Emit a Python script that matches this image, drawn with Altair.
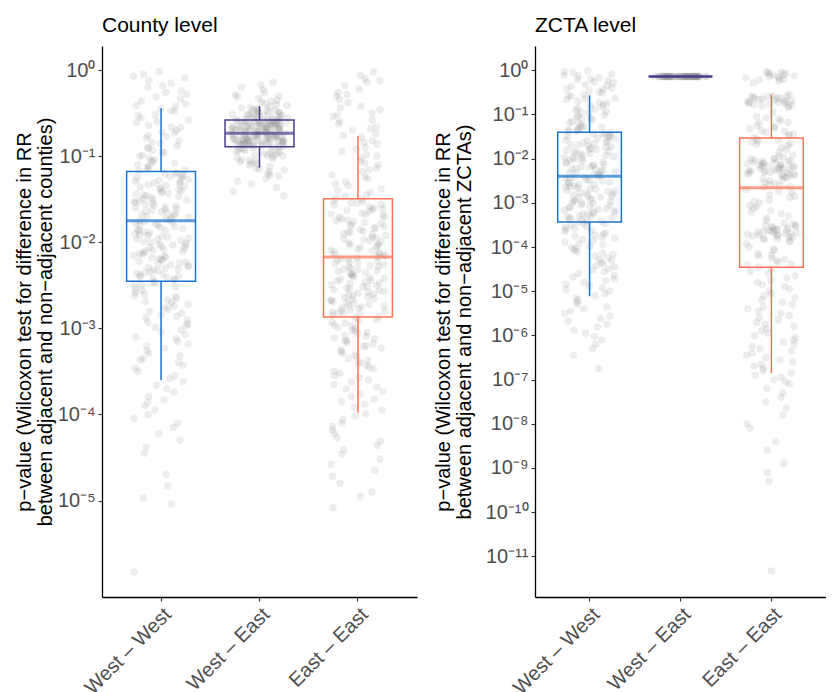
import json
import altair as alt
import pandas as pd

categories = ["West – West", "West – East", "East – East"]
box_colors = ["#1874CD", "#483D8B", "#FF7256"]

# ---- jittered points: log10(p-value) ----
county_west_west = [
    -0.02, -0.05, -0.09, -0.12, -0.15, -0.2, -0.24, -0.28, -0.31, -0.36, -0.39, -0.42, -0.45,
    -0.48, -0.52, -0.55, -0.58, -0.61, -0.64, -0.67, -0.7, -0.73, -0.76, -0.79, -0.82, -0.85,
    -0.88, -0.9, -0.93, -0.96, -0.99, -1.02, -1.05, -1.08, -1.11, -1.14, -1.17,
    -1.19, -1.21, -1.23, -1.25, -1.26, -1.27, -1.29, -1.3, -1.32, -1.34, -1.36, -1.38, -1.39,
    -1.41, -1.43, -1.44, -1.45, -1.46, -1.48, -1.5, -1.51, -1.53, -1.55, -1.56, -1.57, -1.58,
    -1.6, -1.61, -1.62, -1.63, -1.64, -1.66, -1.67, -1.69, -1.7, -1.72, -1.73, -1.74,
    -1.76, -1.78, -1.8, -1.82, -1.84, -1.85, -1.86, -1.88, -1.9, -1.92, -1.94, -1.96, -1.98,
    -2.0, -2.01, -2.02, -2.04, -2.06, -2.08, -2.1, -2.12, -2.14, -2.16, -2.18, -2.2, -2.22,
    -2.24, -2.26, -2.27, -2.28, -2.3, -2.32, -2.34, -2.36, -2.38, -2.4, -2.42, -2.44,
    -2.47, -2.5, -2.54, -2.58, -2.62, -2.65, -2.69, -2.72, -2.76, -2.8, -2.84, -2.88, -2.93,
    -2.97, -3.02, -3.07, -3.12, -3.18, -3.23, -3.29, -3.35, -3.4, -3.46, -3.55, -3.62, -3.7,
    -3.79, -3.86, -3.95, -4.05, -4.15, -4.3, -4.45, -4.7, -4.83, -4.97, -5.04, -5.83,
]
county_west_west_more = [
    -0.07, -0.18, -0.26, -0.33, -0.41, -0.47, -0.53, -0.6, -0.66, -0.72, -0.77, -0.84, -0.91,
    -0.95, -1.0, -1.04, -1.07, -1.1, -1.13, -1.16, -1.2, -1.22, -1.24, -1.28, -1.31, -1.33,
    -1.35, -1.37, -1.4, -1.42, -1.47, -1.49, -1.52, -1.54, -1.59, -1.65, -1.68, -1.71, -1.75,
    -1.77, -1.79, -1.81, -1.83, -1.87, -1.89, -1.91, -1.93, -1.95, -1.97, -1.99, -2.03, -2.05,
    -2.07, -2.09, -2.11, -2.13, -2.15, -2.17, -2.19, -2.21, -2.23, -2.25, -2.29, -2.31, -2.33,
    -2.35, -2.37, -2.39, -2.41, -2.43, -2.46, -2.49, -2.52, -2.56, -2.6, -2.63, -2.67, -2.7,
    -2.74, -2.78, -2.82, -2.86, -2.9, -2.95, -2.99, -3.04, -3.1, -3.15, -3.2, -3.26, -3.32,
    -3.37, -3.43, -3.5, -3.58, -3.66, -3.74, -3.83, -3.9, -4.0, -4.1, -4.22, -4.38,
]
county_west_east = [
    -0.14, -0.17, -0.2, -0.23, -0.26, -0.29, -0.31, -0.33, -0.35, -0.37, -0.39, -0.41, -0.42,
    -0.44, -0.45, -0.46, -0.47, -0.48, -0.49, -0.5, -0.51, -0.52, -0.53, -0.54, -0.55, -0.555,
    -0.56, -0.565, -0.57, -0.575,
    -0.58, -0.585, -0.59, -0.595, -0.6, -0.605, -0.61, -0.615, -0.62, -0.625, -0.63, -0.635,
    -0.64, -0.645, -0.65, -0.655, -0.66, -0.665, -0.67, -0.675, -0.68, -0.685, -0.69, -0.695,
    -0.7, -0.705, -0.71, -0.715, -0.72, -0.73,
    -0.74, -0.745, -0.75, -0.755, -0.76, -0.765, -0.77, -0.775, -0.78, -0.785, -0.79, -0.795,
    -0.8, -0.805, -0.81, -0.815, -0.82, -0.825, -0.83, -0.835, -0.84, -0.845, -0.85, -0.855,
    -0.86, -0.865, -0.87, -0.875, -0.88, -0.885,
    -0.9, -0.91, -0.92, -0.93, -0.94, -0.95, -0.96, -0.97, -0.98, -0.99, -1.0, -1.01, -1.02,
    -1.04, -1.05, -1.07, -1.08, -1.1, -1.12, -1.14, -1.16, -1.18, -1.2, -1.23, -1.26, -1.29,
    -1.32, -1.36, -1.41, -1.46,
]
county_west_east_more = [
    -0.3, -0.36, -0.4, -0.43, -0.455, -0.465, -0.475, -0.485, -0.495, -0.505, -0.515, -0.525,
    -0.535, -0.545, -0.558, -0.568, -0.578, -0.583, -0.588, -0.593, -0.598, -0.603, -0.608,
    -0.613, -0.618, -0.623, -0.628, -0.633, -0.638, -0.643, -0.648, -0.653, -0.658, -0.663,
    -0.668, -0.673, -0.678, -0.683, -0.688, -0.693, -0.698, -0.703, -0.708, -0.713, -0.718,
    -0.725, -0.735, -0.742, -0.748, -0.753, -0.758, -0.763, -0.768, -0.773, -0.778, -0.783,
    -0.788, -0.793, -0.798, -0.803, -0.808, -0.813, -0.818, -0.823, -0.828, -0.833, -0.838,
    -0.843, -0.848, -0.853, -0.858, -0.863, -0.868, -0.873, -0.878, -0.89, -0.905, -0.925,
    -0.945, -0.965, -0.985, -1.03, -1.06, -1.09, -1.15, -1.22,
]
county_east_east = [
    -0.02, -0.06, -0.1, -0.14, -0.18, -0.22, -0.26, -0.3, -0.34, -0.38, -0.42, -0.46, -0.5,
    -0.54, -0.58, -0.62, -0.66, -0.7, -0.74, -0.78, -0.82, -0.86, -0.9, -0.94, -0.98, -1.02,
    -1.06, -1.1, -1.14, -1.18, -1.22, -1.26, -1.3, -1.34, -1.38, -1.42, -1.47,
    -1.5, -1.52, -1.54, -1.55, -1.57, -1.59, -1.61, -1.62, -1.64, -1.66, -1.68, -1.69, -1.71,
    -1.73, -1.75, -1.76, -1.78, -1.8, -1.82, -1.83, -1.85, -1.87, -1.89, -1.9, -1.92, -1.94,
    -1.96, -1.97, -1.99, -2.01, -2.03, -2.04, -2.06, -2.08, -2.1, -2.12, -2.14, -2.16,
    -2.18, -2.2, -2.22, -2.24, -2.26, -2.27, -2.29, -2.31, -2.33, -2.35, -2.36, -2.38, -2.4,
    -2.42, -2.44, -2.45, -2.47, -2.49, -2.51, -2.53, -2.54, -2.56, -2.58, -2.6, -2.62, -2.63,
    -2.65, -2.67, -2.69, -2.71, -2.72, -2.74, -2.76, -2.78, -2.8, -2.81, -2.83, -2.85,
    -2.88, -2.91, -2.94, -2.97, -3.0, -3.03, -3.06, -3.09, -3.12, -3.15, -3.18, -3.21, -3.25,
    -3.29, -3.33, -3.37, -3.41, -3.45, -3.5, -3.55, -3.6, -3.65, -3.7, -3.76, -3.82, -3.88,
    -3.95, -4.02, -4.1, -4.18, -4.27, -4.36, -4.46, -4.58, -4.72, -4.9, -5.08,
]
county_east_east_more = [
    -0.12, -0.28, -0.44, -0.52, -0.6, -0.68, -0.76, -0.84, -0.92, -1.0, -1.08, -1.16, -1.24,
    -1.32, -1.4, -1.45, -1.49, -1.53, -1.56, -1.6, -1.63, -1.67, -1.7, -1.74, -1.77, -1.81,
    -1.84, -1.88, -1.91, -1.95, -1.98, -2.02, -2.05, -2.09, -2.11, -2.13, -2.15, -2.17, -2.19,
    -2.21, -2.23, -2.25, -2.28, -2.3, -2.32, -2.34, -2.37, -2.39, -2.41, -2.43, -2.46, -2.48,
    -2.5, -2.52, -2.55, -2.57, -2.59, -2.61, -2.64, -2.66, -2.68, -2.7, -2.73, -2.75, -2.77,
    -2.79, -2.82, -2.84, -2.86, -2.9, -2.93, -2.96, -2.99, -3.02, -3.05, -3.08, -3.11, -3.14,
    -3.17, -3.2, -3.23, -3.27, -3.31, -3.35, -3.39, -3.43, -3.47, -3.52, -3.57, -3.62, -3.68,
    -3.73, -3.79, -3.85, -3.92, -3.99, -4.06, -4.14, -4.22, -4.31, -4.41, -4.52, -4.65, -4.8,
    -4.95,
]
zcta_west_west = [
    -0.01, -0.05, -0.09, -0.13, -0.17, -0.2, -0.24, -0.28, -0.32, -0.36, -0.4, -0.43, -0.47,
    -0.51, -0.55, -0.59, -0.63, -0.66, -0.7, -0.74, -0.78, -0.82, -0.86, -0.89, -0.93, -0.97,
    -1.01, -1.05, -1.09, -1.12, -1.16, -1.2, -1.24, -1.28, -1.32, -1.35, -1.38,
    -1.42, -1.45, -1.47, -1.5, -1.52, -1.55, -1.58, -1.6, -1.63, -1.66, -1.68, -1.71, -1.74,
    -1.76, -1.79, -1.81, -1.84, -1.87, -1.89, -1.92, -1.95, -1.97, -2.0, -2.02, -2.05, -2.08,
    -2.1, -2.13, -2.16, -2.18, -2.21, -2.23, -2.26, -2.29, -2.31, -2.34, -2.36, -2.39,
    -2.42, -2.45, -2.47, -2.5, -2.53, -2.56, -2.58, -2.61, -2.64, -2.66, -2.69, -2.72, -2.75,
    -2.77, -2.8, -2.83, -2.85, -2.88, -2.91, -2.94, -2.96, -2.99, -3.02, -3.04, -3.07, -3.1,
    -3.13, -3.15, -3.18, -3.21, -3.23, -3.26, -3.29, -3.31, -3.34, -3.37, -3.39, -3.42,
    -3.46, -3.5, -3.55, -3.6, -3.65, -3.7, -3.75, -3.8, -3.86, -3.92, -3.98, -4.04, -4.1,
    -4.17, -4.24, -4.31, -4.38, -4.45, -4.52, -4.6, -4.68, -4.76, -4.84, -4.92, -5.0, -5.1,
    -5.2, -5.3, -5.4, -5.5, -5.62, -5.75, -5.88, -6.02, -6.2, -6.45, -6.75,
]
zcta_west_west_more = [
    -0.03, -0.11, -0.19, -0.26, -0.34, -0.42, -0.49, -0.57, -0.65, -0.72, -0.8, -0.88, -0.95,
    -1.03, -1.1, -1.18, -1.26, -1.3, -1.34, -1.37, -1.4, -1.44, -1.49, -1.54, -1.59, -1.64,
    -1.69, -1.73, -1.78, -1.83, -1.88, -1.93, -1.98, -2.04, -2.09, -2.14, -2.19, -2.24, -2.28,
    -2.33, -2.38, -2.41, -2.44, -2.49, -2.54, -2.59, -2.63, -2.68, -2.73, -2.78, -2.82, -2.87,
    -2.92, -2.97, -3.01, -3.06, -3.11, -3.16, -3.2, -3.25, -3.3, -3.35, -3.4, -3.44, -3.48,
    -3.53, -3.58, -3.63, -3.68, -3.73, -3.78, -3.83, -3.89, -3.95, -4.01, -4.07, -4.14, -4.21,
    -4.28, -4.35, -4.42, -4.49, -4.56, -4.64, -4.72, -4.8, -4.88, -4.96, -5.05, -5.15, -5.25,
    -5.35, -5.45, -5.56, -5.68, -5.81, -5.95, -6.1, -6.3,
]
zcta_west_east = [
    -0.142, -0.141, -0.143, -0.142, -0.14, -0.142, -0.144, -0.141, -0.142, -0.143,
    -0.142, -0.14, -0.141, -0.142, -0.143, -0.142, -0.144, -0.142, -0.141, -0.142,
    -0.143, -0.142, -0.141, -0.14, -0.142, -0.143, -0.142, -0.141, -0.142, -0.144,
    -0.142, -0.141, -0.143, -0.142, -0.14, -0.142, -0.143, -0.141, -0.142, -0.142,
]
zcta_west_east_more = [
    -0.141, -0.142, -0.143, -0.142, -0.141, -0.142, -0.14, -0.143, -0.142, -0.141,
    -0.142, -0.143, -0.142, -0.144, -0.142, -0.141, -0.142, -0.143, -0.142, -0.141,
]
zcta_east_east = [
    -0.03, -0.05, -0.08, -0.1, -0.12, -0.14, -0.17, -0.2, -0.24, -0.28,
    -0.55, -0.58, -0.6, -0.62, -0.64, -0.66, -0.68, -0.7, -0.72, -0.74, -0.76, -0.78, -0.8, -0.84,
    -0.95, -1.05, -1.1, -1.15, -1.2, -1.25, -1.3, -1.33, -1.36, -1.4, -1.44, -1.48, -1.52,
    -1.56, -1.6, -1.63, -1.66, -1.7, -1.75, -1.8, -1.86, -1.92, -1.97, -2.0, -2.03, -2.06,
    -2.08, -2.1, -2.12, -2.14, -2.16, -2.18, -2.2, -2.22, -2.24, -2.26, -2.28, -2.3, -2.32,
    -2.34, -2.36, -2.38, -2.4, -2.43, -2.46, -2.5, -2.54, -2.58, -2.61, -2.63, -2.65,
    -2.7, -2.76, -2.82, -2.88, -2.94, -3.0, -3.06, -3.12, -3.18, -3.24, -3.3, -3.4, -3.46,
    -3.5, -3.53, -3.56, -3.59, -3.61, -3.63, -3.65, -3.67, -3.69, -3.71, -3.73, -3.75, -3.78,
    -3.81, -3.85, -3.92, -4.0, -4.08, -4.15, -4.2, -4.25, -4.3, -4.35, -4.4, -4.45,
    -4.5, -4.6, -4.7, -4.8, -4.9, -5.0, -5.1, -5.2, -5.3, -5.4, -5.5, -5.6, -5.7, -5.8, -5.9,
    -6.0, -6.1, -6.2, -6.3, -6.4, -6.5, -6.6, -6.7, -6.8, -6.9, -7.0, -7.1, -7.3, -7.5, -7.8,
    -8.1, -8.4, -8.6, -8.9, -9.1, -9.3, -11.33,
]
zcta_east_east_more = [
    -0.04, -0.07, -0.11, -0.15, -0.19, -0.22, -0.57, -0.59, -0.61, -0.63, -0.65, -0.67, -0.69,
    -0.71, -0.73, -0.75, -0.77, -0.82, -1.08, -1.18, -1.28, -1.38, -1.46, -1.58, -1.68, -1.95,
    -1.99, -2.02, -2.05, -2.07, -2.09, -2.11, -2.13, -2.15, -2.17, -2.19, -2.21, -2.23, -2.25,
    -2.27, -2.29, -2.31, -2.33, -2.35, -2.37, -2.42, -2.48, -2.56, -2.74, -2.85, -2.97, -3.09,
    -3.21, -3.35, -3.48, -3.51, -3.54, -3.57, -3.6, -3.62, -3.64, -3.66, -3.68, -3.7, -3.72,
    -3.74, -3.77, -3.8, -3.83, -3.88, -4.05, -4.18, -4.28, -4.38, -4.55, -4.65, -4.75, -4.85,
    -4.95, -5.05, -5.15, -5.25, -5.35, -5.45, -5.55, -5.65, -5.75, -5.85, -5.95, -6.05, -6.15,
    -6.25, -6.35, -6.45, -6.55, -6.65, -6.75, -6.85, -6.95, -7.05, -7.2, -7.4, -7.65, -8.0,
]

# ---- box summaries (p-values), per category ----
county_lo = [2.5e-4, 0.0738, 1.05e-4]
county_q1 = [0.00352, 0.129, 0.00136]
county_med = [0.0178, 0.185, 0.00676]
county_q3 = [0.0664, 0.264, 0.032]
county_hi = [0.36, 0.383, 0.172]

zcta_lo = [7.7e-6, 0.72, 1.4e-7]
zcta_q1 = [3.7e-4, 0.72, 3.47e-5]
zcta_med = [0.00398, 0.72, 0.00221]
zcta_q3 = [0.0398, 0.72, 0.0292]
zcta_hi = [0.273, 0.72, 0.283]

FONT = "Liberation Sans"
SUP = str.maketrans("0123456789-", "⁰¹²³⁴⁵⁶⁷⁸⁹⁻")


def points_df(groups):
    rows = []
    for cat, vals in zip(categories, groups):
        for v in vals:
            rows.append({"group": cat, "p": 10 ** v})
    return pd.DataFrame(rows)


def box_df(lo, q1, med, q3, hi):
    return pd.DataFrame({"group": categories, "lo": lo, "q1": q1, "med": med, "q3": q3, "hi": hi})


def panel(title, pts, box, domain, n_dec, ytitle, width, height, title_pad):
    labels = ["10" + str(-k).translate(SUP) for k in range(n_dec + 1)]
    ticks = [10.0 ** (-k) for k in range(n_dec + 1)]
    xscale = alt.Scale(domain=categories, paddingInner=0.3, paddingOuter=0.25)
    xaxis = alt.Axis(title=None, labelAngle=-45, labelAlign="right", labelBaseline="top")
    yscale = alt.Scale(type="log", domain=domain, nice=False)
    yaxis = alt.Axis(values=ticks,
                     labelExpr=json.dumps(labels, ensure_ascii=False) + "[round(-log(datum.value)/LN10)]",
                     title=ytitle, titlePadding=title_pad)
    cscale = alt.Scale(domain=categories, range=box_colors)
    bw = 0.7 * width / 3.2

    pts_layer = (
        alt.Chart(pts)
        .transform_window(rn="row_number()")
        .transform_calculate(jit="(abs(sin(datum.rn * 12.9898 + 0.37)) * 43758.5453) % 1")
        .mark_circle(size=55, color="#808080", opacity=0.14)
        .encode(
            x=alt.X("group:N", scale=xscale, axis=xaxis),
            xOffset=alt.XOffset("jit:Q", scale=alt.Scale(domain=[-0.12, 1.12]), title=None),
            y=alt.Y("p:Q", scale=yscale, axis=yaxis),
        )
    )
    base = alt.Chart(box).encode(
        x=alt.X("group:N", scale=xscale, axis=xaxis),
        color=alt.Color("group:N", scale=cscale, legend=None),
    )
    lower = base.mark_rule(strokeWidth=1.5).encode(y=alt.Y("lo:Q", scale=yscale, axis=yaxis), y2="q1:Q")
    upper = base.mark_rule(strokeWidth=1.5).encode(y=alt.Y("q3:Q", scale=yscale, axis=yaxis), y2="hi:Q")
    boxes = base.mark_bar(filled=False, strokeWidth=1.5, width=bw).encode(
        y=alt.Y("q1:Q", scale=yscale, axis=yaxis), y2="q3:Q")
    med = base.mark_tick(thickness=3, size=bw).encode(y=alt.Y("med:Q", scale=yscale, axis=yaxis))
    return alt.layer(pts_layer, lower, upper, boxes, med).properties(
        width=width, height=height,
        title=alt.TitleParams(title, anchor="start", frame="group", offset=10,
                              fontSize=21, fontWeight="normal", font=FONT, color="black"),
    )


left = panel(
    "County level",
    points_df([county_west_west + county_west_west_more,
               county_west_east + county_west_east_more,
               county_east_east + county_east_east_more]),
    box_df(county_lo, county_q1, county_med, county_q3, county_hi),
    [10 ** -6.12, 10 ** 0.28], 5,
    ["p−value (Wilcoxon test for difference in RR", "between adjacent and non−adjacent counties)"],
    315, 551, 2,
)
right = panel(
    "ZCTA level",
    points_df([zcta_west_west + zcta_west_west_more,
               zcta_west_east + zcta_west_east_more,
               zcta_east_east + zcta_east_east_more]),
    box_df(zcta_lo, zcta_q1, zcta_med, zcta_q3, zcta_hi),
    [10 ** -11.92, 10 ** 0.55], 11,
    ["p−value (Wilcoxon test for difference in RR", "between adjacent and non−adjacent ZCTAs)"],
    291, 551, 11,
)

chart = (
    alt.hconcat(left, right, spacing=16)
    .resolve_scale(x="independent", y="independent", color="independent", xOffset="independent")
    .properties(padding={"left": 6, "top": 7, "right": 0, "bottom": 0})
    .configure_view(stroke=None)
    .configure_axis(
        domainColor="black", domainWidth=1.3, tickColor="#333333", tickWidth=1.1, tickSize=4,
        labelColor="#4D4D4D", labelFont=FONT, labelFontSize=20, labelPadding=3,
        titleFont=FONT, titleFontSize=20, titleFontWeight="normal", titleColor="black",
        titleLineHeight=21, grid=False,
    )
)

chart.save("out.html", embed_options={"renderer": "svg", "actions": False})
